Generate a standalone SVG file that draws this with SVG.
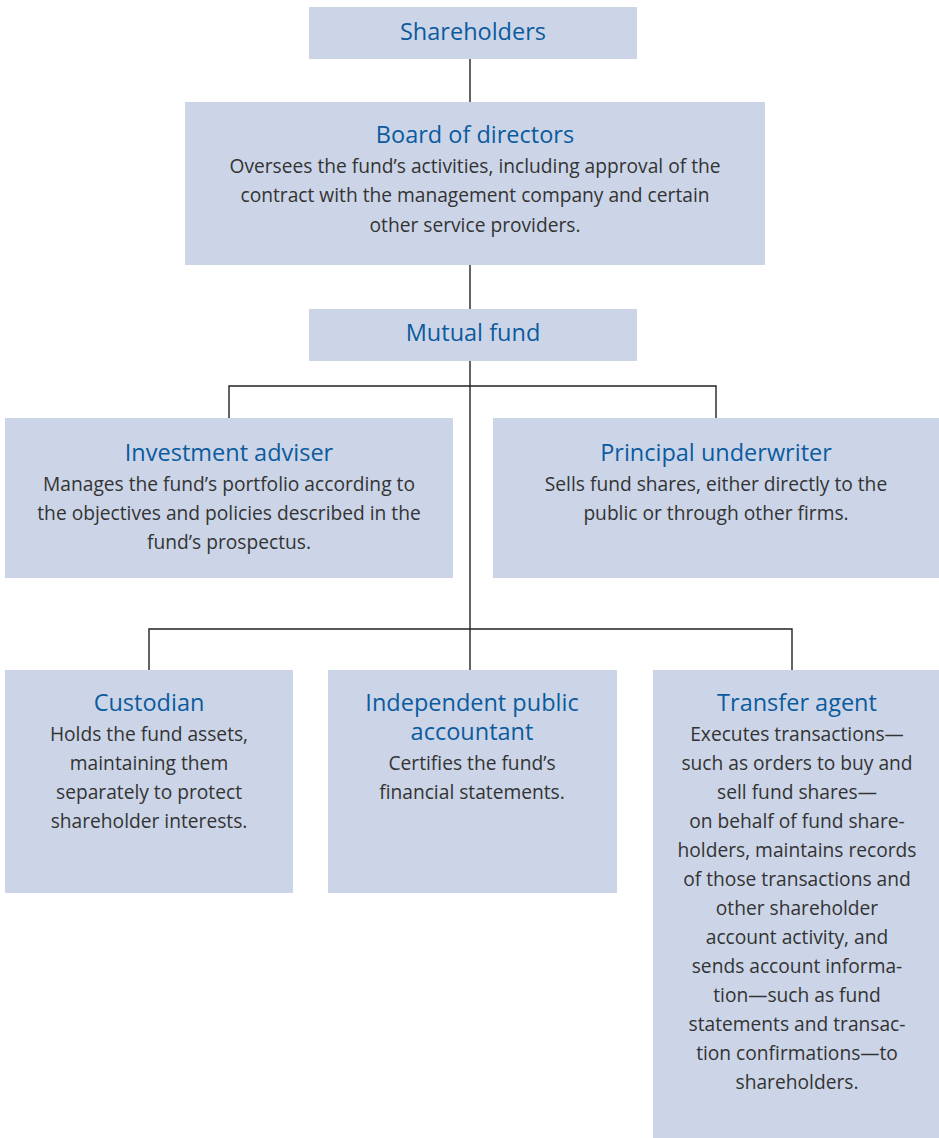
<svg xmlns="http://www.w3.org/2000/svg" width="939" height="1138" viewBox="0 0 939 1138">
  <style>
    .box { fill: #cbd5e7; }
    .title { font-family: "Open Sans", "Liberation Sans", sans-serif; font-size: 23.5px; fill: #0b5b9e; text-anchor: middle; }
    .body { font-family: "Open Sans", "Liberation Sans", sans-serif; font-size: 19.2px; fill: #333333; text-anchor: middle; }
    .link { stroke: #222222; stroke-width: 1.4; fill: none; }
  </style>
  <rect width="939" height="1138" fill="#ffffff"/>

  <!-- connectors -->
  <g id="connectors">
    <line class="link" x1="470" y1="59" x2="470" y2="102"/>
    <line class="link" x1="470" y1="265" x2="470" y2="309"/>
    <line class="link" x1="470" y1="361" x2="470" y2="670"/>
    <polyline class="link" points="229,418 229,386 716,386 716,418"/>
    <polyline class="link" points="149,670 149,629 792,629 792,670"/>
  </g>

  <g id="shareholders">
    <rect class="box" x="309" y="7" width="328" height="52"/>
    <text class="title" x="473" y="40">Shareholders</text>
  </g>

  <g id="board">
    <rect class="box" x="185" y="102" width="580" height="163"/>
    <text class="title" x="475" y="143">Board of directors</text>
    <text class="body" x="475" y="173">Oversees the fund’s activities, including approval of the</text>
    <text class="body" x="475" y="202">contract with the management company and certain</text>
    <text class="body" x="475" y="232">other service providers.</text>
  </g>

  <g id="mutual-fund">
    <rect class="box" x="309" y="309" width="328" height="52"/>
    <text class="title" x="473" y="341">Mutual fund</text>
  </g>

  <g id="investment-adviser">
    <rect class="box" x="5" y="418" width="448" height="160"/>
    <text class="title" x="229" y="461">Investment adviser</text>
    <text class="body" x="229" y="491">Manages the fund’s portfolio according to</text>
    <text class="body" x="229" y="520">the objectives and policies described in the</text>
    <text class="body" x="229" y="549">fund’s prospectus.</text>
  </g>

  <g id="principal-underwriter">
    <rect class="box" x="493" y="418" width="446" height="160"/>
    <text class="title" x="716" y="461">Principal underwriter</text>
    <text class="body" x="716" y="491">Sells fund shares, either directly to the</text>
    <text class="body" x="716" y="520">public or through other firms.</text>
  </g>

  <g id="custodian">
    <rect class="box" x="5" y="670" width="288" height="223"/>
    <text class="title" x="149" y="711">Custodian</text>
    <text class="body" x="149" y="741">Holds the fund assets,</text>
    <text class="body" x="149" y="770">maintaining them</text>
    <text class="body" x="149" y="799">separately to protect</text>
    <text class="body" x="149" y="828">shareholder interests.</text>
  </g>

  <g id="accountant">
    <rect class="box" x="328" y="670" width="289" height="223"/>
    <text class="title" x="472" y="711">Independent public</text>
    <text class="title" x="472" y="740">accountant</text>
    <text class="body" x="472" y="770">Certifies the fund’s</text>
    <text class="body" x="472" y="799">financial statements.</text>
  </g>

  <g id="transfer-agent">
    <rect class="box" x="653" y="670" width="286" height="468"/>
    <text class="title" x="797" y="711">Transfer agent</text>
    <text class="body" x="797" y="741">Executes transactions—</text>
    <text class="body" x="797" y="770">such as orders to buy and</text>
    <text class="body" x="797" y="799">sell fund shares—</text>
    <text class="body" x="797" y="828">on behalf of fund share-</text>
    <text class="body" x="797" y="857">holders, maintains records</text>
    <text class="body" x="797" y="886">of those transactions and</text>
    <text class="body" x="797" y="915">other shareholder</text>
    <text class="body" x="797" y="944">account activity, and</text>
    <text class="body" x="797" y="973">sends account informa-</text>
    <text class="body" x="797" y="1002">tion—such as fund</text>
    <text class="body" x="797" y="1031">statements and transac-</text>
    <text class="body" x="797" y="1060">tion confirmations—to</text>
    <text class="body" x="797" y="1089">shareholders.</text>
  </g>
</svg>
